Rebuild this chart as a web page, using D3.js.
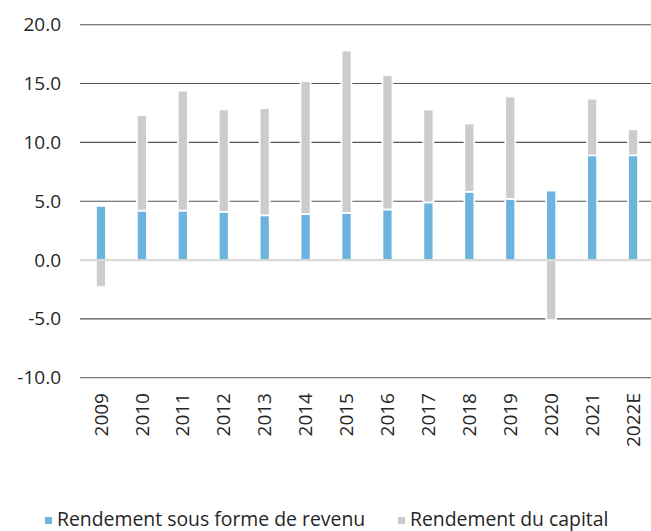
<!DOCTYPE html>
<html>
<head>
<meta charset="utf-8">
<script src="https://cdn.jsdelivr.net/npm/d3@7"></script>
<style>
  html, body { margin: 0; padding: 0; background: #fff; }
  svg { display: block; font-family: "Open Sans", "Noto Sans", sans-serif; }
</style>
</head>
<body>
<svg id="chart" width="651" height="531"></svg>
<script>
const categories = ["2009","2010","2011","2012","2013","2014","2015","2016","2017","2018","2019","2020","2021","2022E"];
const incomeReturn = [4.6, 4.2, 4.2, 4.1, 3.8, 3.9, 4.0, 4.3, 4.9, 5.8, 5.2, 5.9, 8.9, 8.9];
const capitalReturn = [-2.3, 8.1, 10.2, 8.7, 9.1, 11.3, 13.8, 11.4, 7.9, 5.8, 8.7, -5.1, 4.8, 2.2];
const yTicks = [20, 15, 10, 5, 0, -5, -10];
const yTickLabels = ["20.0", "15.0", "10.0", "5.0", "0.0", "-5.0", "-10.0"];
const seriesNames = ["Rendement sous forme de revenu", "Rendement du capital"];
const seriesColors = ["#6cb4de", "#cccccc"];

const svg = d3.select("#chart");
const x0 = 80.5, x1 = 653.5;
const yTop = 24.7, yBottom = 377.7;

const x = d3.scaleBand().domain(categories).range([x0, x1])
  .paddingInner(0.756).paddingOuter(0.378);
const y = d3.scaleLinear().domain([-10, 20]).range([yBottom, yTop]);

const rows = categories.map((c, i) => ({ cat: c, income: incomeReturn[i], capital: capitalReturn[i] }));
const stack = d3.stack().keys(["income", "capital"]).offset(d3.stackOffsetDiverging);
const stacked = stack(rows);

// gridlines (except zero)
svg.append("g").selectAll("line")
  .data(yTicks.filter(d => d !== 0))
  .join("line")
  .attr("x1", 80).attr("x2", 651)
  .attr("y1", d => y(d)).attr("y2", d => y(d))
  .attr("stroke", "#555").attr("stroke-width", 1.1);

// y labels
const yAxis = d3.axisLeft(y).tickValues(yTicks)
  .tickFormat((d, i) => yTickLabels[i]).tickSize(0).tickPadding(19);
const gy = svg.append("g").attr("transform", "translate(80,0)").call(yAxis);
gy.select(".domain").remove();
gy.selectAll("text").attr("font-size", 19).attr("fill", "#262626")
  .attr("font-family", "Open Sans, Noto Sans, sans-serif");

// bars
svg.append("g").selectAll("g")
  .data(stacked)
  .join("g")
  .attr("fill", (d, i) => seriesColors[i])
  .selectAll("rect")
  .data(d => d)
  .join("rect")
  .attr("x", d => x(d.data.cat))
  .attr("width", x.bandwidth())
  .attr("y", d => y(Math.max(d[0], d[1])))
  .attr("height", d => Math.abs(y(d[0]) - y(d[1])))
  .attr("stroke", "#fff").attr("stroke-width", 1.7);

// zero line
svg.append("line")
  .attr("x1", 80).attr("x2", 651)
  .attr("y1", y(0)).attr("y2", y(0))
  .attr("stroke", "#d9d9d9").attr("stroke-width", 2.2);

// x labels
const xAxis = d3.axisBottom(x).tickSize(0).tickPadding(0);
const gx = svg.append("g").attr("transform", "translate(0,393)").call(xAxis);
gx.select(".domain").remove();
gx.selectAll("text")
  .attr("font-size", 19).attr("fill", "#262626")
  .attr("font-family", "Open Sans, Noto Sans, sans-serif")
  .attr("text-anchor", "end")
  .attr("transform", "rotate(-90)")
  .attr("x", 0).attr("y", 0).attr("dy", "0.35em");

// legend
const legendX = [45, 398];
const legend = svg.append("g").selectAll("g")
  .data(seriesNames)
  .join("g")
  .attr("transform", (d, i) => `translate(${legendX[i]},517)`);
legend.append("rect").attr("width", 7).attr("height", 7)
  .attr("fill", (d, i) => seriesColors[i]);
legend.append("text").attr("x", 12).attr("y", 9)
  .attr("font-size", 19.4).attr("fill", "#262626")
  .text(d => d);
</script>
</body>
</html>
